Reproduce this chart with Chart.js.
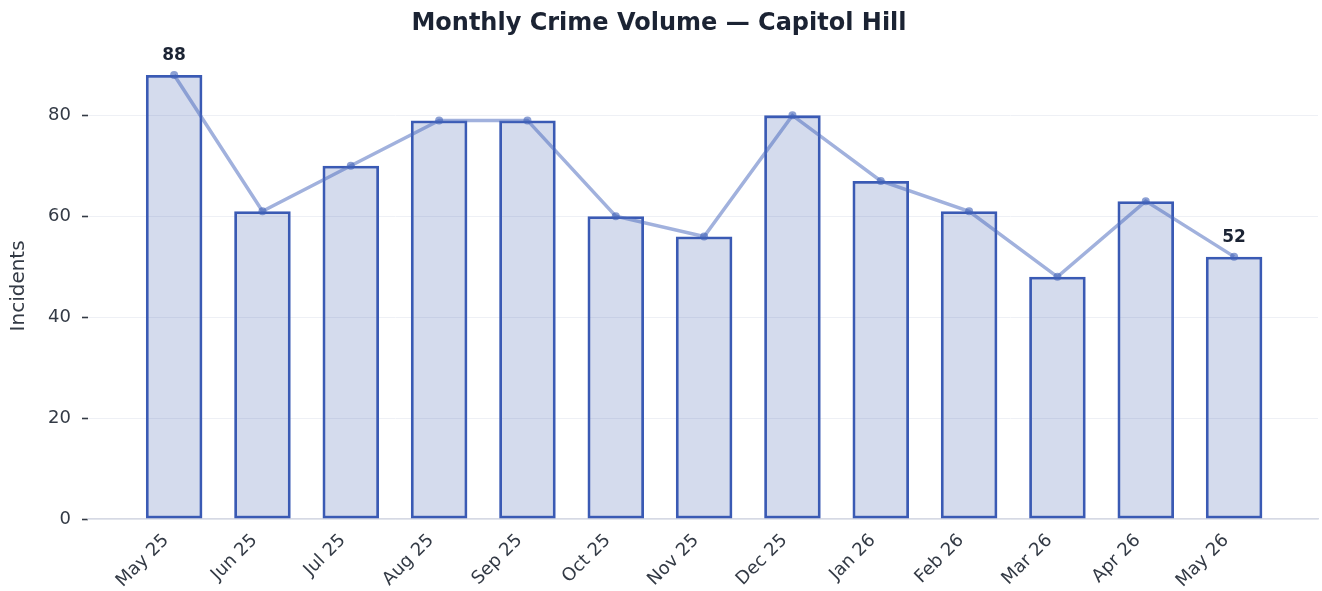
<!DOCTYPE html>
<html>
<head>
<meta charset="utf-8">
<script src="https://cdn.jsdelivr.net/npm/chart.js@4"></script>
<style>
  html, body { margin: 0; padding: 0; background: #fff; }
  #wrap { width: 1322px; height: 591px; }
</style>
</head>
<body>
<div id="wrap"><canvas id="crimeChart" width="1322" height="591"></canvas></div>
<script>
// Monthly incidents
const months = ['May 25', 'Jun 25', 'Jul 25', 'Aug 25', 'Sep 25', 'Oct 25', 'Nov 25',
                'Dec 25', 'Jan 26', 'Feb 26', 'Mar 26', 'Apr 26', 'May 26'];
const incidents = [88, 61, 70, 79, 79, 60, 56, 80, 67, 61, 48, 63, 52];
const yTicks = [0, 20, 40, 60, 80];

const FONT = "'DejaVu Sans', sans-serif";

// x positions are the month indexes; labels come from the months array
const points = incidents.map((v, i) => ({ x: i, y: v }));

// Only the first and last month get a value label
const endLabels = {
    id: 'endLabels',
    afterDatasetsDraw(chart) {
        const ctx = chart.ctx;
        const meta = chart.getDatasetMeta(1);
        const last = incidents.length - 1;
        ctx.save();
        ctx.font = 'bold 17px ' + FONT;
        ctx.fillStyle = '#1b2333';
        ctx.textAlign = 'center';
        ctx.textBaseline = 'bottom';
        [0, last].forEach(i => {
            const pt = meta.data[i];
            ctx.fillText(String(incidents[i]), pt.x, pt.y - 11);
        });
        ctx.restore();
    }
};

Chart.defaults.font.family = FONT;
Chart.defaults.color = '#333a45';

new Chart(document.getElementById('crimeChart'), {
    type: 'bar',
    data: {
        datasets: [{
            type: 'bar',
            data: points,
            backgroundColor: 'rgba(68, 98, 178, 0.23)',
            borderColor: '#3a5ab4',
            borderWidth: 2.8,
            borderSkipped: false,
            categoryPercentage: 1,
            barPercentage: 0.64,
            order: 2
        }, {
            type: 'line',
            data: points,
            borderColor: 'rgba(74, 106, 190, 0.52)',
            backgroundColor: 'rgba(64, 96, 184, 0.6)',
            borderWidth: 3.5,
            pointRadius: 4,
            pointBorderWidth: 0,
            tension: 0,
            order: 1
        }]
    },
    options: {
        responsive: false,
        animation: false,
        layout: { padding: { left: 0, right: 4, top: 0, bottom: 0 } },
        plugins: {
            legend: { display: false },
            tooltip: { enabled: false },
            title: {
                display: true,
                text: 'Monthly Crime Volume — Capitol Hill',
                color: '#1b2333',
                font: { size: 24, weight: 'bold', family: FONT },
                padding: { top: 9, bottom: 15 }
            }
        },
        scales: {
            x: {
                type: 'linear',
                offset: false,
                min: -0.975,
                max: 12.95,
                afterFit(scale) { scale.height = 72; },
                afterBuildTicks(scale) {
                    scale.ticks = months.map((m, i) => ({ value: i }));
                },
                grid: { display: false },
                border: { display: true, color: '#d6d9e4', width: 1.5 },
                ticks: {
                    autoSkip: false,
                    maxRotation: 45,
                    minRotation: 45,
                    padding: 3,
                    labelOffset: -8,
                    color: '#333a45',
                    font: { size: 18 },
                    callback: v => months[v]
                }
            },
            y: {
                min: 0,
                max: 92.4,
                afterFit(scale) { scale.width = 88; },
                afterBuildTicks(scale) {
                    scale.ticks = yTicks.map(v => ({ value: v }));
                },
                border: { display: false },
                grid: {
                    color: '#eef0f5',
                    lineWidth: 1,
                    tickColor: '#333a45',
                    tickWidth: 1.6,
                    tickLength: 6
                },
                ticks: {
                    padding: 11,
                    color: '#333a45',
                    font: { size: 18 }
                },
                title: {
                    display: true,
                    text: 'Incidents',
                    color: '#333a45',
                    font: { size: 20 },
                    padding: { top: 7, bottom: 0 }
                }
            }
        }
    },
    plugins: [endLabels]
});
</script>
</body>
</html>
